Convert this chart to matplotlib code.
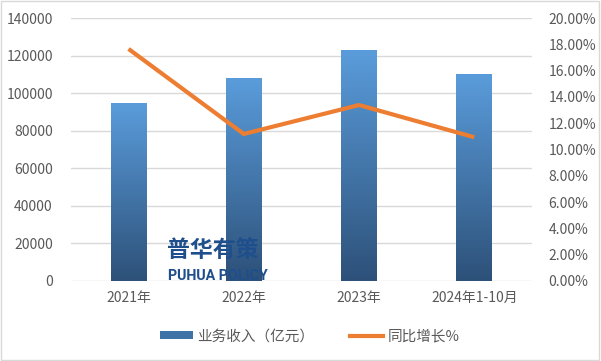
import numpy as np
import matplotlib
matplotlib.use("Agg")
import matplotlib.pyplot as plt
from matplotlib.patches import Patch, Rectangle
from matplotlib.lines import Line2D
from matplotlib.colors import LinearSegmentedColormap

plt.rcParams['font.family'] = ['Noto Sans CJK SC', 'DejaVu Sans']

categories = ["2021年", "2022年", "2023年", "2024年1-10月"]
revenue = [94800, 107900, 123000, 110200]
growth = [17.65, 11.18, 13.38, 10.93]
left_ticks = [0, 20000, 40000, 60000, 80000, 100000, 120000, 140000]
right_ticks = [0, 2, 4, 6, 8, 10, 12, 14, 16, 18, 20]
bar_label = "业务收入（亿元）"
line_label = "同比增长%"

text_col = "#595959"
grid_col = "#D9D9D9"
line_col = "#ED7D31"
top_col = "#5A9CDB"
bot_col = "#2D5179"

fig = plt.figure(figsize=(6.01, 3.61), dpi=100)
ax = fig.add_axes([0.118, 0.222, 0.767, 0.728])
x = np.arange(len(categories))
bars = ax.bar(x, revenue, width=0.31, color=top_col, zorder=2)
cmap = LinearSegmentedColormap.from_list("g", [bot_col, top_col])
grad = np.linspace(0, 1, 256).reshape(-1, 1)
for b in bars:
    bx, by = b.get_x(), b.get_y()
    w, h = b.get_width(), b.get_height()
    im = ax.imshow(grad, extent=[bx, bx + w, 0, h], origin='lower', aspect='auto',
                   cmap=cmap, zorder=3)
    im.set_clip_path(b)
ax.set_xlim(-0.5, len(categories) - 0.5)
ax.set_ylim(0, 140000)
ax.set_yticks(left_ticks)
ax.set_yticklabels([str(v) for v in left_ticks])
ax.set_xticks(x)
ax.set_xticklabels(categories)
ax.grid(axis='y', color=grid_col, linewidth=1, zorder=0)
ax.set_axisbelow(True)
for s in ax.spines.values():
    s.set_visible(False)
ax.tick_params(axis='both', length=0, colors=text_col, labelsize=10)
ax.tick_params(axis='y', pad=13)
ax.tick_params(axis='x', pad=7)

ax2 = ax.twinx()
ax2.plot(x, growth, color=line_col, linewidth=3, solid_capstyle='butt', zorder=4)
ax2.set_ylim(0, 20)
ax2.set_yticks(right_ticks)
ax2.set_yticklabels([f"{v:.2f}%" for v in right_ticks])
for s in ax2.spines.values():
    s.set_visible(False)
ax2.tick_params(axis='y', length=0, colors=text_col, labelsize=10, pad=12)
ax2.set_xlim(-0.5, len(categories) - 0.5)

# watermark
fig.text(0.278, 0.305, "普华有策", fontsize=16.5, fontweight='bold', color="#1F4E8C",
         ha='left', va='center', zorder=10)
fig.text(0.279, 0.235, "PUHUA POLICY", fontsize=10.3, fontweight='bold', color="#1F4E8C",
         ha='left', va='center', zorder=10, family=['Roboto', 'DejaVu Sans'])

handles = [Patch(facecolor="#3F73A8", edgecolor='none'),
           Line2D([0], [0], color=line_col, linewidth=3)]
fig.legend(handles, [bar_label, line_label], loc='center', bbox_to_anchor=(0.515, 0.068),
           ncol=2, frameon=False, fontsize=10.5, labelcolor=text_col,
           handlelength=2.3, handleheight=0.45, columnspacing=2.4, handletextpad=0.3)

fig.patches.append(Rectangle((0.001, 0.004), 0.995, 0.994, transform=fig.transFigure,
                             fill=False, edgecolor="#D9D9D9", linewidth=1))

fig.savefig("out.png", dpi=100, facecolor='white')
